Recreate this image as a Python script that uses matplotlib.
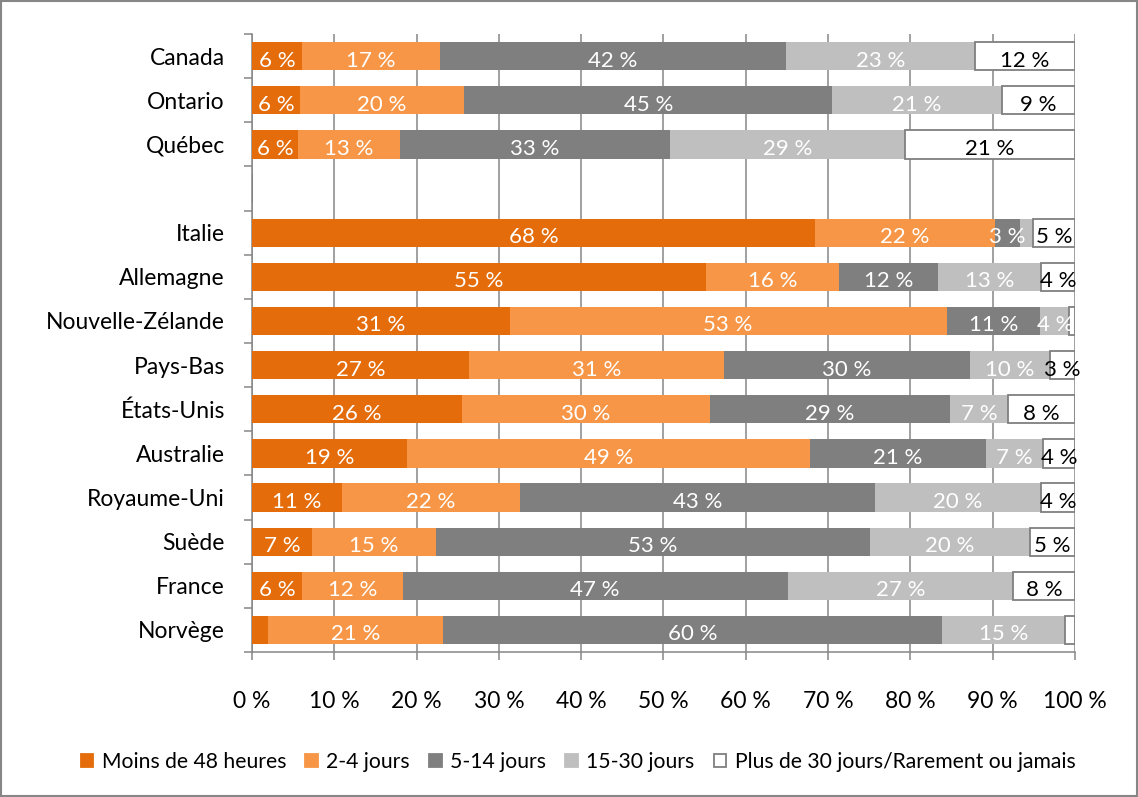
import numpy as np
import matplotlib
matplotlib.use('Agg')
from matplotlib import pyplot as plt
from matplotlib.patches import Patch

plt.rcParams['font.family'] = ['Lato', 'DejaVu Sans']

# donnees (lignes de haut en bas, '' = ligne vide)
pays = ['Canada', 'Ontario', 'Québec', '', 'Italie', 'Allemagne', 'Nouvelle-Zélande',
        'Pays-Bas', 'États-Unis', 'Australie', 'Royaume-Uni', 'Suède', 'France', 'Norvège']
series = ['Moins de 48 heures', '2-4 jours', '5-14 jours', '15-30 jours',
          'Plus de 30 jours/Rarement ou jamais']

moins48 = [6.1, 5.8, 5.6, 0, 68.4, 55.2, 31.3, 26.4, 25.5, 18.8, 10.9, 7.3, 6.1, 1.9]
j2_4 = [16.7, 20.0, 12.4, 0, 21.9, 16.1, 53.1, 31.0, 30.2, 49.0, 21.7, 15.1, 12.2, 21.3]
j5_14 = [42.1, 44.7, 32.8, 0, 3.0, 12.1, 11.4, 29.8, 29.1, 21.4, 43.1, 52.7, 46.8, 60.6]
j15_30 = [22.9, 20.6, 28.5, 0, 1.6, 12.5, 3.5, 9.8, 7.1, 6.9, 20.2, 19.4, 27.4, 15.0]
plus30 = [12.2, 8.9, 20.7, 0, 5.1, 4.1, 0.7, 3.0, 8.1, 3.9, 4.1, 5.5, 7.5, 1.2]

lab_moins48 = ['6 %', '6 %', '6 %', '', '68 %', '55 %', '31 %', '27 %', '26 %', '19 %', '11 %', '7 %', '6 %', '']
lab_2_4 = ['17 %', '20 %', '13 %', '', '22 %', '16 %', '53 %', '31 %', '30 %', '49 %', '22 %', '15 %', '12 %', '21 %']
lab_5_14 = ['42 %', '45 %', '33 %', '', '3 %', '12 %', '11 %', '30 %', '29 %', '21 %', '43 %', '53 %', '47 %', '60 %']
lab_15_30 = ['23 %', '21 %', '29 %', '', '', '13 %', '4 %', '10 %', '7 %', '7 %', '20 %', '20 %', '27 %', '15 %']
lab_plus30 = ['12 %', '9 %', '21 %', '', '5 %', '4 %', '', '3 %', '8 %', '4 %', '4 %', '5 %', '8 %', '']

couleurs = ['#E46C0A', '#F79646', '#7F7F7F', '#BFBFBF', '#FFFFFF']
txt_coul = ['white', 'white', 'white', 'white', 'black']
gris = '#868686'

valeurs = [moins48, j2_4, j5_14, j15_30, plus30]
etiquettes = [lab_moins48, lab_2_4, lab_5_14, lab_15_30, lab_plus30]

fig = plt.figure(figsize=(11.38, 7.97), dpi=100)
ax = fig.add_axes([0.2214, 0.1819, 0.7232, 0.7754])

y = np.arange(len(pays))
gauche = np.zeros(len(pays))
for i in range(5):
    v = np.array(valeurs[i])
    if i == 4:
        ax.barh(y, v, left=gauche, height=0.64, color=couleurs[i],
                edgecolor='#7F7F7F', linewidth=1.3, zorder=3)
    else:
        ax.barh(y, v, left=gauche, height=0.64, color=couleurs[i], zorder=3)
    for k in range(len(pays)):
        if etiquettes[i][k]:
            ax.text(gauche[k] + v[k] / 2, y[k] + 0.1, etiquettes[i][k], ha='center',
                    va='center', color=txt_coul[i], fontsize=16, zorder=4)
    gauche = gauche + v

ax.set_xlim(0, 100)
ax.set_ylim(len(pays) - 0.5, -0.5)
ax.set_xticks(np.arange(0, 101, 10))
ax.set_xticklabels(['%d %%' % t for t in range(0, 101, 10)], fontsize=16.5)
ax.set_yticks(y)
ax.set_yticklabels(pays, fontsize=16.5)
ax.set_yticks(np.arange(-0.5, len(pays), 1), minor=True)
ax.tick_params(axis='y', which='major', length=0, pad=19.5)
ax.tick_params(axis='y', which='minor', length=6, width=1.1, color=gris)
ax.tick_params(axis='x', length=6, width=1.1, color=gris, pad=22)
ax.grid(axis='x', color=gris, linewidth=1.1, zorder=0)
ax.set_axisbelow(True)
for s in ['top', 'right']:
    ax.spines[s].set_visible(False)
for s in ['left', 'bottom']:
    ax.spines[s].set_color(gris)
    ax.spines[s].set_linewidth(1.1)

poignees = [Patch(facecolor=couleurs[i], edgecolor='#7F7F7F' if i == 4 else couleurs[i],
                  linewidth=1.3) for i in range(5)]
fig.legend(poignees, series, loc='center', bbox_to_anchor=(0.508, 0.044), ncol=5,
           frameon=False, fontsize=15.2, handlelength=0.6, handleheight=0.6,
           handletextpad=0.4, columnspacing=0.9)

fig.patches.append(plt.Rectangle((0.001, 0.001), 0.998, 0.998, transform=fig.transFigure,
                                 fill=False, edgecolor=gris, linewidth=1.5))

fig.savefig('out.png', dpi=100)
